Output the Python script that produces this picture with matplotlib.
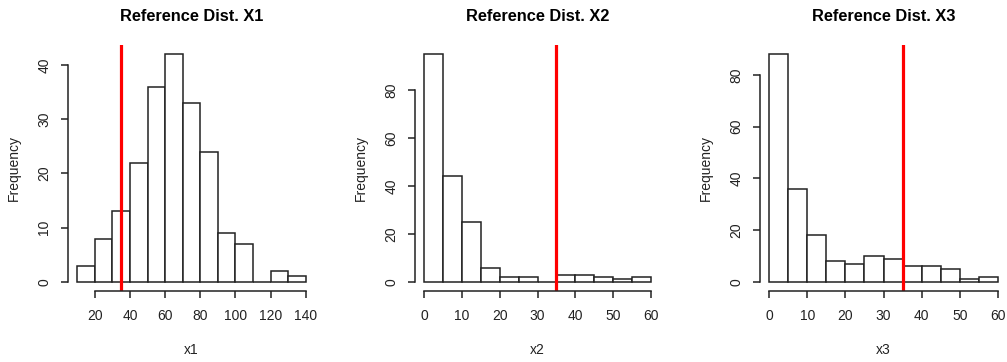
import numpy as np
from matplotlib import pyplot as plt

plt.rcParams['font.family'] = ['Liberation Sans', 'DejaVu Sans']

# datos
bordes_x1 = np.arange(10, 141, 10)
frec_x1 = [3, 8, 13, 22, 36, 42, 33, 24, 9, 7, 0, 2, 1]

bordes_x2 = np.arange(0, 61, 5)
frec_x2 = [95, 44, 25, 6, 2, 2, 0, 3, 3, 2, 1, 2]

bordes_x3 = np.arange(0, 61, 5)
frec_x3 = [88, 36, 18, 8, 7, 10, 9, 6, 6, 5, 1, 2]

titulos = ['Reference Dist. X1', 'Reference Dist. X2', 'Reference Dist. X3']
etiquetas = ['x1', 'x2', 'x3']
xticks = [np.arange(20, 141, 20), np.arange(0, 61, 10), np.arange(0, 61, 10)]
yticks = [np.arange(0, 41, 10), np.arange(0, 81, 20), np.arange(0, 81, 20)]
corte = 35

fig = plt.figure(figsize=(10.07, 3.62), dpi=100)
posiciones = [[68/1007, 71/362, 247/1007, 246/362],
              [415/1007, 71/362, 245/1007, 246/362],
              [760/1007, 71/362, 247/1007, 246/362]]

datos = [(bordes_x1, frec_x1), (bordes_x2, frec_x2), (bordes_x3, frec_x3)]
gris = '#222222'

for i in range(3):
    ax = fig.add_axes(posiciones[i])
    bordes, frec = datos[i]
    ancho = bordes[1] - bordes[0]
    ax.bar(bordes[:-1], frec, width=ancho, align='edge', color='white',
           edgecolor=gris, linewidth=1.1)
    # rango estilo R (4% extra)
    rx = bordes[-1] - bordes[0]
    ax.set_xlim(bordes[0] - 0.04*rx, bordes[-1] + 0.04*rx)
    ry = max(frec)
    ax.set_ylim(-0.04*ry, ry*1.04)
    ax.axvline(corte, color='#ff0000', linewidth=2.3)

    ax.spines['top'].set_visible(False)
    ax.spines['right'].set_visible(False)
    for lado in ['left', 'bottom']:
        ax.spines[lado].set_color(gris)
        ax.spines[lado].set_linewidth(1.1)
    ax.spines['bottom'].set_bounds(xticks[i][0], xticks[i][-1])
    ax.spines['left'].set_bounds(yticks[i][0], yticks[i][-1])
    ax.set_xticks(xticks[i])
    ax.set_yticks(yticks[i])
    ax.tick_params(axis='x', length=5, width=1.1, pad=8, labelsize=10,
                   colors=gris)
    ax.tick_params(axis='y', length=5, width=1.1, pad=7, labelsize=10,
                   colors=gris, labelrotation=90)
    for t in ax.get_yticklabels():
        t.set_verticalalignment('center')
    ax.set_xlabel(etiquetas[i], fontsize=10, color=gris, labelpad=14)
    ax.set_ylabel('Frequency', fontsize=10, color=gris, labelpad=12)
    ax.set_title(titulos[i], fontsize=11.8, fontweight='bold', pad=17)

fig.savefig('out.png', dpi=100)
